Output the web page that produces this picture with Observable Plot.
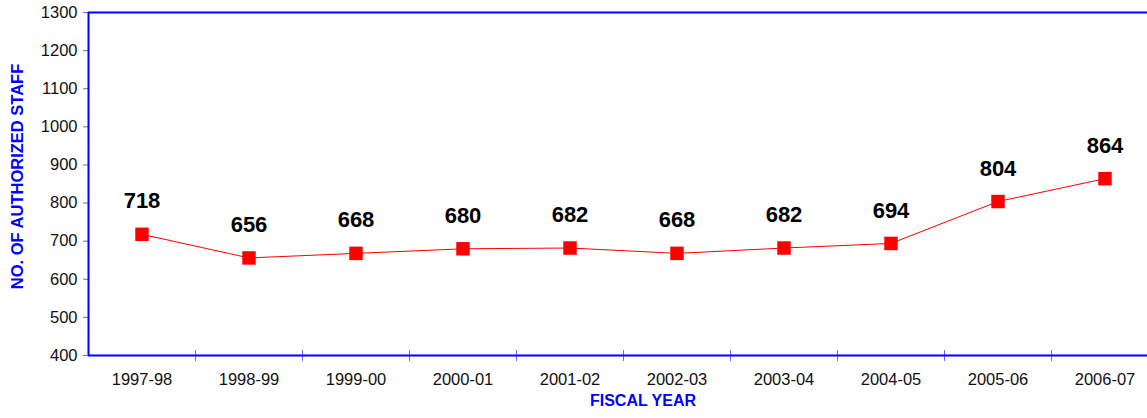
<!DOCTYPE html>
<html>
<head>
<meta charset="utf-8">
<script src="https://cdn.jsdelivr.net/npm/d3@7"></script>
<script src="https://cdn.jsdelivr.net/npm/@observablehq/plot@0.6"></script>
<style>
  html, body { margin: 0; padding: 0; background: #fff; }
  #chart { width: 1147px; height: 418px; overflow: hidden; }
  svg { font-family: Arial, "Liberation Sans", sans-serif; }
</style>
</head>
<body>
<div id="chart"></div>
<script>
const categories = ["1997-98","1998-99","1999-00","2000-01","2001-02","2002-03","2003-04","2004-05","2005-06","2006-07"];
const staff = [718, 656, 668, 680, 682, 668, 682, 694, 804, 864];
const yTicks = [400, 500, 600, 700, 800, 900, 1000, 1100, 1200, 1300];
const yLabel = "NO. OF AUTHORIZED STAFF";
const xLabel = "FISCAL YEAR";

const data = categories.map((c, i) => ({cat: c, i, pos: i + 0.5, v: staff[i]}));
const boundaries = d3.range(1, categories.length);

const blue = "#0000ff";
const tickBlue = "#6666ff";

const chart = Plot.plot({
  width: 1147,
  height: 418,
  marginLeft: 88,
  marginTop: 12,
  marginBottom: 63,
  marginRight: 0,
  style: {fontFamily: "Arial, 'Liberation Sans', sans-serif", background: "white", overflow: "hidden"},
  x: {type: "linear", domain: [0, categories.length], range: [88, 1158], axis: null, label: null},
  y: {domain: [400, 1300], range: [355, 12], axis: null, label: null},
  marks: [
    Plot.axisY({ticks: yTicks, tickSize: 5, tickPadding: 6, fontSize: 16.5, stroke: tickBlue, fill: "#111", tickFormat: d => String(d), anchor: "left", label: null}),
    Plot.ruleX(boundaries, {x: d => d, y1: 400, y2: 400, insetTop: -5, insetBottom: -6, stroke: tickBlue, strokeWidth: 1}),
    Plot.ruleY([400], {stroke: blue, strokeWidth: 2}),
    Plot.ruleY([1300], {stroke: blue, strokeWidth: 2}),
    Plot.ruleX([0], {stroke: blue, strokeWidth: 2}),
    Plot.line(data, {x: "pos", y: "v", stroke: "#ff0000", strokeWidth: 1}),
    Plot.dot(data, {x: "pos", y: "v", symbol: "square", r: 7.6, fill: "#ff0000", stroke: null}),
    Plot.text(data, {x: "pos", y: "v", text: d => String(d.v), dy: -33, fontSize: 22, fontWeight: "bold", fill: "black"}),
    Plot.text(data, {x: "pos", y: 400, text: "cat", dy: 24.5, fontSize: 16.5, fill: "#111"}),
    Plot.text([yLabel], {frameAnchor: "left", textAnchor: "middle", text: d => d, rotate: -90, dx: -70.5, dy: -7.5, fontSize: 16.5, fontWeight: "bold", fill: blue}),
    Plot.text([xLabel], {frameAnchor: "bottom", textAnchor: "middle", text: d => d, dx: 25, dy: 50.7, fontSize: 16, fontWeight: "bold", fill: blue})
  ]
});
document.getElementById("chart").appendChild(chart);
</script>
</body>
</html>
